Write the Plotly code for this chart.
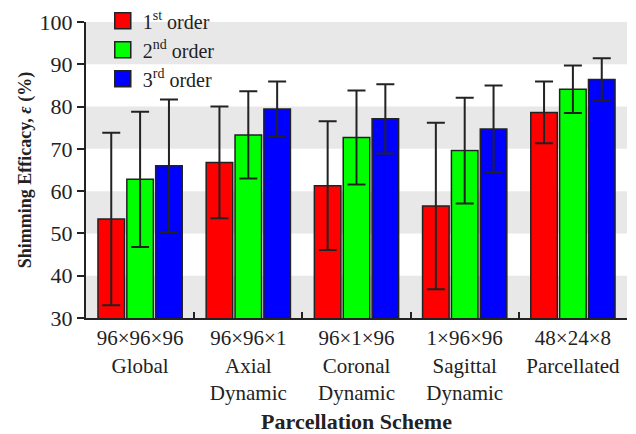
import plotly.graph_objects as go

categories = ["96×96×96<br>Global", "96×96×1<br>Axial<br>Dynamic", "96×1×96<br>Coronal<br>Dynamic",
              "1×96×96<br>Sagittal<br>Dynamic", "48×24×8<br>Parcellated"]
series_names = ["1<sup>st</sup> order", "2<sup>nd</sup> order", "3<sup>rd</sup> order"]
first_order = [53.4, 66.8, 61.3, 56.5, 78.6]
first_err = [20.4, 13.2, 15.2, 19.7, 7.3]
second_order = [62.8, 73.3, 72.7, 69.6, 84.1]
second_err = [16.0, 10.3, 11.1, 12.5, 5.6]
third_order = [66.0, 79.4, 77.1, 74.7, 86.4]
third_err = [15.7, 6.5, 8.2, 10.3, 5.0]
colors = ["#ff0000", "#00ff00", "#0000ff"]
y_ticks = [30, 40, 50, 60, 70, 80, 90, 100]

FONT = "Liberation Serif, Times New Roman, serif"
INK = "#222222"

fig = go.Figure()
for name, vals, errs, col in zip(series_names, [first_order, second_order, third_order],
                                  [first_err, second_err, third_err], colors):
    fig.add_trace(go.Bar(
        x=categories, y=vals, name=name, showlegend=False,
        marker=dict(color=col, line=dict(color=INK, width=1.5)),
        error_y=dict(type="data", array=errs, visible=True, color=INK, thickness=2, width=9),
    ))
# legend entries with larger square swatches
for name, col in zip(series_names, colors):
    fig.add_trace(go.Scatter(
        x=[categories[0]], y=[None], name=name, mode="markers",
        marker=dict(symbol="square", size=16, color=col, line=dict(color=INK, width=1.5)),
        hoverinfo="skip",
    ))

# grey background bands
for lo in y_ticks[:-1:2]:
    fig.add_shape(type="rect", xref="paper", yref="y", x0=0, x1=1, y0=lo, y1=lo + 10,
                  fillcolor="#e8e8e8", line=dict(width=0), layer="below")

fig.update_layout(
    width=636, height=434,
    margin=dict(l=86, r=9, t=22, b=116, autoexpand=False),
    paper_bgcolor="white", plot_bgcolor="white",
    barmode="group", bargap=0.2, bargroupgap=0.08,
    font=dict(family=FONT, color=INK, size=21),
    showlegend=True,
    legend=dict(x=0.031, y=1.07, xanchor="left", yanchor="top", bgcolor="rgba(0,0,0,0)",
                font=dict(size=20, family=FONT, color=INK), tracegroupgap=0, itemwidth=30),
    xaxis=dict(type="category", tickson="boundaries", ticks="inside", ticklen=6,
               tickwidth=2, tickcolor=INK, showline=True, linecolor=INK,
               linewidth=2, showgrid=False, automargin=False,
               title=dict(text="<b>Parcellation Scheme</b>", font=dict(size=22, family=FONT, color=INK), standoff=13),
               tickfont=dict(size=21, family=FONT, color=INK)),
    yaxis=dict(range=[30, 100], tickvals=y_ticks, ticks="outside", ticklen=7, tickwidth=2,
               tickcolor=INK, showline=True, linecolor=INK, linewidth=2,
               showgrid=False, zeroline=False, automargin=False,
               title=dict(text="<b>Shimming Efficacy, <i>ε</i> (%)</b>", font=dict(size=18, family=FONT, color=INK), standoff=3),
               tickfont=dict(size=22, family=FONT, color=INK)),
)

fig.write_html("out.html")
